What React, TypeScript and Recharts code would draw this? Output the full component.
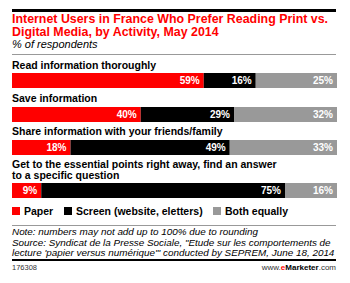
import React from 'react';
import { BarChart, Bar, XAxis, YAxis, LabelList } from 'recharts';

const activities = [
  'Read information thoroughly',
  'Save information',
  'Share information with your friends/family',
  'Get to the essential points right away, find an answer to a specific question',
];
const paper = [59, 40, 18, 9];
const screen = [16, 29, 49, 75];
const both = [25, 32, 33, 16];

const seriesNames = ['Paper', 'Screen (website, eletters)', 'Both equally'];
const seriesColors = ['#ff0000', '#000000', '#999999'];

// vertical placement of each row (label top, bar top)
const rowLayout = [
  { labelTop: 60, barTop: 73 },
  { labelTop: 93, barTop: 107 },
  { labelTop: 126, barTop: 140 },
  { labelTop: 159, barTop: 183 },
];

const font = 'Arial, "Liberation Sans", Helvetica, sans-serif';

const pct = (v: any) => `${v}%`;

const Row: React.FC<{ i: number }> = ({ i }) => {
  const data = [{ name: activities[i], paper: paper[i], screen: screen[i], both: both[i] }];
  const { labelTop, barTop } = rowLayout[i];
  const labelStyle = { fill: '#fff', fontSize: 10, fontWeight: 700, fontFamily: font };
  return (
    <>
      <div
        style={{
          position: 'absolute',
          left: 12,
          top: labelTop,
          width: 276,
          fontFamily: font,
          fontWeight: 700,
          fontSize: 10.5,
          lineHeight: '11px',
          color: '#000',
        }}
      >
        {activities[i]}
      </div>
      <div style={{ position: 'absolute', left: 12, top: barTop }}>
        <BarChart
          width={325}
          height={15}
          data={data}
          layout="vertical"
          stackOffset="expand"
          margin={{ top: 0, right: 0, bottom: 0, left: 0 }}
          barCategoryGap={0}
        >
          <XAxis type="number" hide domain={[0, 1]} />
          <YAxis type="category" dataKey="name" hide />
          <Bar dataKey="paper" stackId="a" fill={seriesColors[0]} isAnimationActive={false}>
            <LabelList dataKey="paper" position="insideRight" offset={4} formatter={pct} style={labelStyle} />
          </Bar>
          <Bar dataKey="screen" stackId="a" fill={seriesColors[1]} isAnimationActive={false}>
            <LabelList dataKey="screen" position="insideRight" offset={4} formatter={pct} style={labelStyle} />
          </Bar>
          <Bar dataKey="both" stackId="a" fill={seriesColors[2]} isAnimationActive={false}>
            <LabelList dataKey="both" position="insideRight" offset={4} formatter={pct} style={labelStyle} />
          </Bar>
        </BarChart>
      </div>
    </>
  );
};

const legendX = [12, 64, 213];

export default function App() {
  return (
    <div
      style={{
        position: 'absolute',
        left: 0,
        top: 0,
        width: 350,
        height: 283,
        background: '#fff',
        fontFamily: font,
        overflow: 'hidden',
      }}
    >
      <div style={{ position: 'absolute', left: 12, top: 9, width: 324, height: 3, background: '#000' }} />
      <div
        style={{
          position: 'absolute',
          left: 12,
          top: 13,
          width: 330,
          color: '#ff0000',
          fontWeight: 700,
          fontSize: 12.4,
          lineHeight: '13px',
        }}
      >
        Internet Users in France Who Prefer Reading Print vs.
        <br />
        Digital Media, by Activity, May 2014
      </div>
      <div style={{ position: 'absolute', left: 12, top: 38, fontStyle: 'italic', fontSize: 11, color: '#000' }}>
        % of respondents
      </div>
      <div style={{ position: 'absolute', left: 12, top: 54, width: 324, height: 1, background: '#999' }} />

      {activities.map((_, i) => (
        <Row key={i} i={i} />
      ))}

      {seriesNames.map((n, i) => (
        <div
          key={n}
          style={{
            position: 'absolute',
            left: legendX[i],
            top: 205,
            display: 'flex',
            alignItems: 'center',
            fontWeight: 700,
            fontSize: 10.5,
            whiteSpace: 'nowrap',
          }}
        >
          <span style={{ display: 'inline-block', width: 8, height: 8, background: seriesColors[i], marginRight: 4 }} />
          {n}
        </div>
      ))}

      <div style={{ position: 'absolute', left: 12, top: 225, width: 324, height: 1, background: '#999' }} />
      <div
        style={{
          position: 'absolute',
          left: 12,
          top: 227,
          width: 334,
          fontStyle: 'italic',
          fontSize: 9.9,
          lineHeight: '10.5px',
          color: '#000',
          whiteSpace: 'nowrap',
        }}
      >
        Note: numbers may not add up to 100% due to rounding
        <br />
        Source: Syndicat de la Presse Sociale, "Etude sur les comportements de
        <br />
        lecture 'papier versus numérique'" conducted by SEPREM, June 18, 2014
      </div>
      <div style={{ position: 'absolute', left: 12, top: 259, width: 324, height: 2, background: '#000' }} />
      <div style={{ position: 'absolute', left: 12, top: 263, fontSize: 7.5, color: '#333' }}>176308</div>
      <div style={{ position: 'absolute', right: 14, top: 263, fontSize: 8, color: '#333' }}>
        www.<span style={{ color: '#ff0000', fontWeight: 700 }}>e</span>
        <span style={{ fontWeight: 700, color: '#000' }}>Marketer</span>.com
      </div>
    </div>
  );
}
